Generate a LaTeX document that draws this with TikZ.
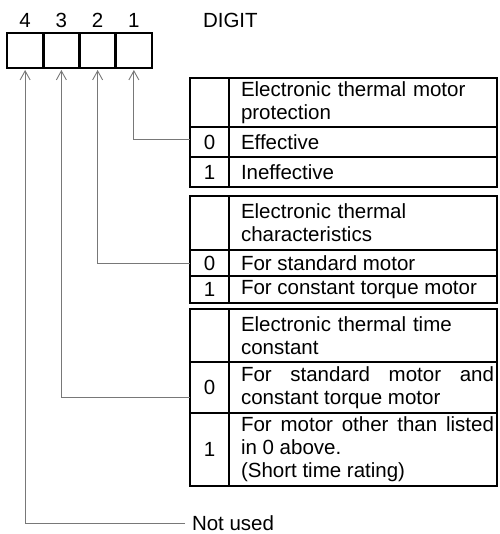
\documentclass[tikz,border=0pt]{standalone}
\usepackage{fontspec}
\setmainfont{Liberation Sans}
\usetikzlibrary{arrows.meta,positioning}
\definecolor{wiregray}{RGB}{120,120,120}
\hyphenpenalty=10000

\begin{document}
\begin{tikzpicture}[x=1pt, y=-1pt,
    every node/.style={font=\fontsize{20.5}{23}\selectfont, inner sep=0pt, outer sep=0pt},
    digitcell/.style={draw, line width=2.6pt, minimum width=36.25pt, minimum height=35pt},
    numcell/.style={draw, line width=2pt, minimum width=39pt, minimum height=#1, anchor=north west},
    textcell/.style={draw, line width=2pt, minimum width=268pt, minimum height=#1,
        text width=262pt, align=justify, execute at begin node={\leftskip=9pt}},
    headcell/.style={textcell=#1, align=left},
    wire/.style={draw=wiregray, line width=0.9pt, -{Straight Barb[length=9pt, width=10pt]}, shorten >=2pt}]
    \useasboundingbox (0,0) rectangle (499,534);
    % digit box
    \foreach \d [count=\i] in {4,3,2,1} {
        \node[digitcell] (d\d) at ({7+36.25*(\i-0.5)}, 50.5) {};
        \node[above=5pt of d\d] (l\d) {\d};
    }
    \node[anchor=west] (digit) at (203,20) {DIGIT};
    % table 1
    \node[numcell=49] (t1nh) at (190,78) {};
    \node[headcell=49, right=0pt of t1nh] (t1th) {Electronic thermal motor protection};
    \node[numcell=30, below=0pt of t1nh] (t1n0) {0};
    \node[textcell=30, right=0pt of t1n0] (t1t0) {Effective};
    \node[numcell=30, below=0pt of t1n0] (t1n1) {1};
    \node[textcell=30, right=0pt of t1n1] (t1t1) {Ineffective};
    % table 2
    \node[numcell=54] (t2nh) at (190,196) {};
    \node[headcell=54, right=0pt of t2nh] (t2th) {Electronic thermal characteristics};
    \node[numcell=26, below=0pt of t2nh] (t2n0) {0};
    \node[textcell=26, right=0pt of t2n0] (t2t0) {For standard motor};
    \node[numcell=27, below=0pt of t2n0] (t2n1) {1};
    \node[textcell=27, right=0pt of t2n1] (t2t1) {For constant torque motor};
    % table 3
    \node[numcell=53] (t3nh) at (190,309) {};
    \node[headcell=53, right=0pt of t3nh] (t3th) {Electronic thermal time constant};
    \node[numcell=51, below=0pt of t3nh] (t3n0) {0};
    \node[textcell=51, right=0pt of t3n0] (t3t0) {For standard motor and constant torque motor};
    \node[numcell=73, below=0pt of t3n0] (t3n1) {1};
    \node[textcell=73, right=0pt of t3n1] (t3t1) {For motor other than listed\linebreak in 0 above.\\(Short time rating)};
    % connectors
    \node[anchor=west] (unused) at (192,523) {Not used};
    \draw[wire] ([yshift=3pt]t1n0.west) -| (d1.south);
    \draw[wire] (t2n0.west) -| (d2.south);
    \draw[wire] ([yshift=-9.5pt]t3n0.west) -| (d3.south);
    \draw[wire] ([xshift=-7pt]unused.west) -| (d4.south);
\end{tikzpicture}
\end{document}
